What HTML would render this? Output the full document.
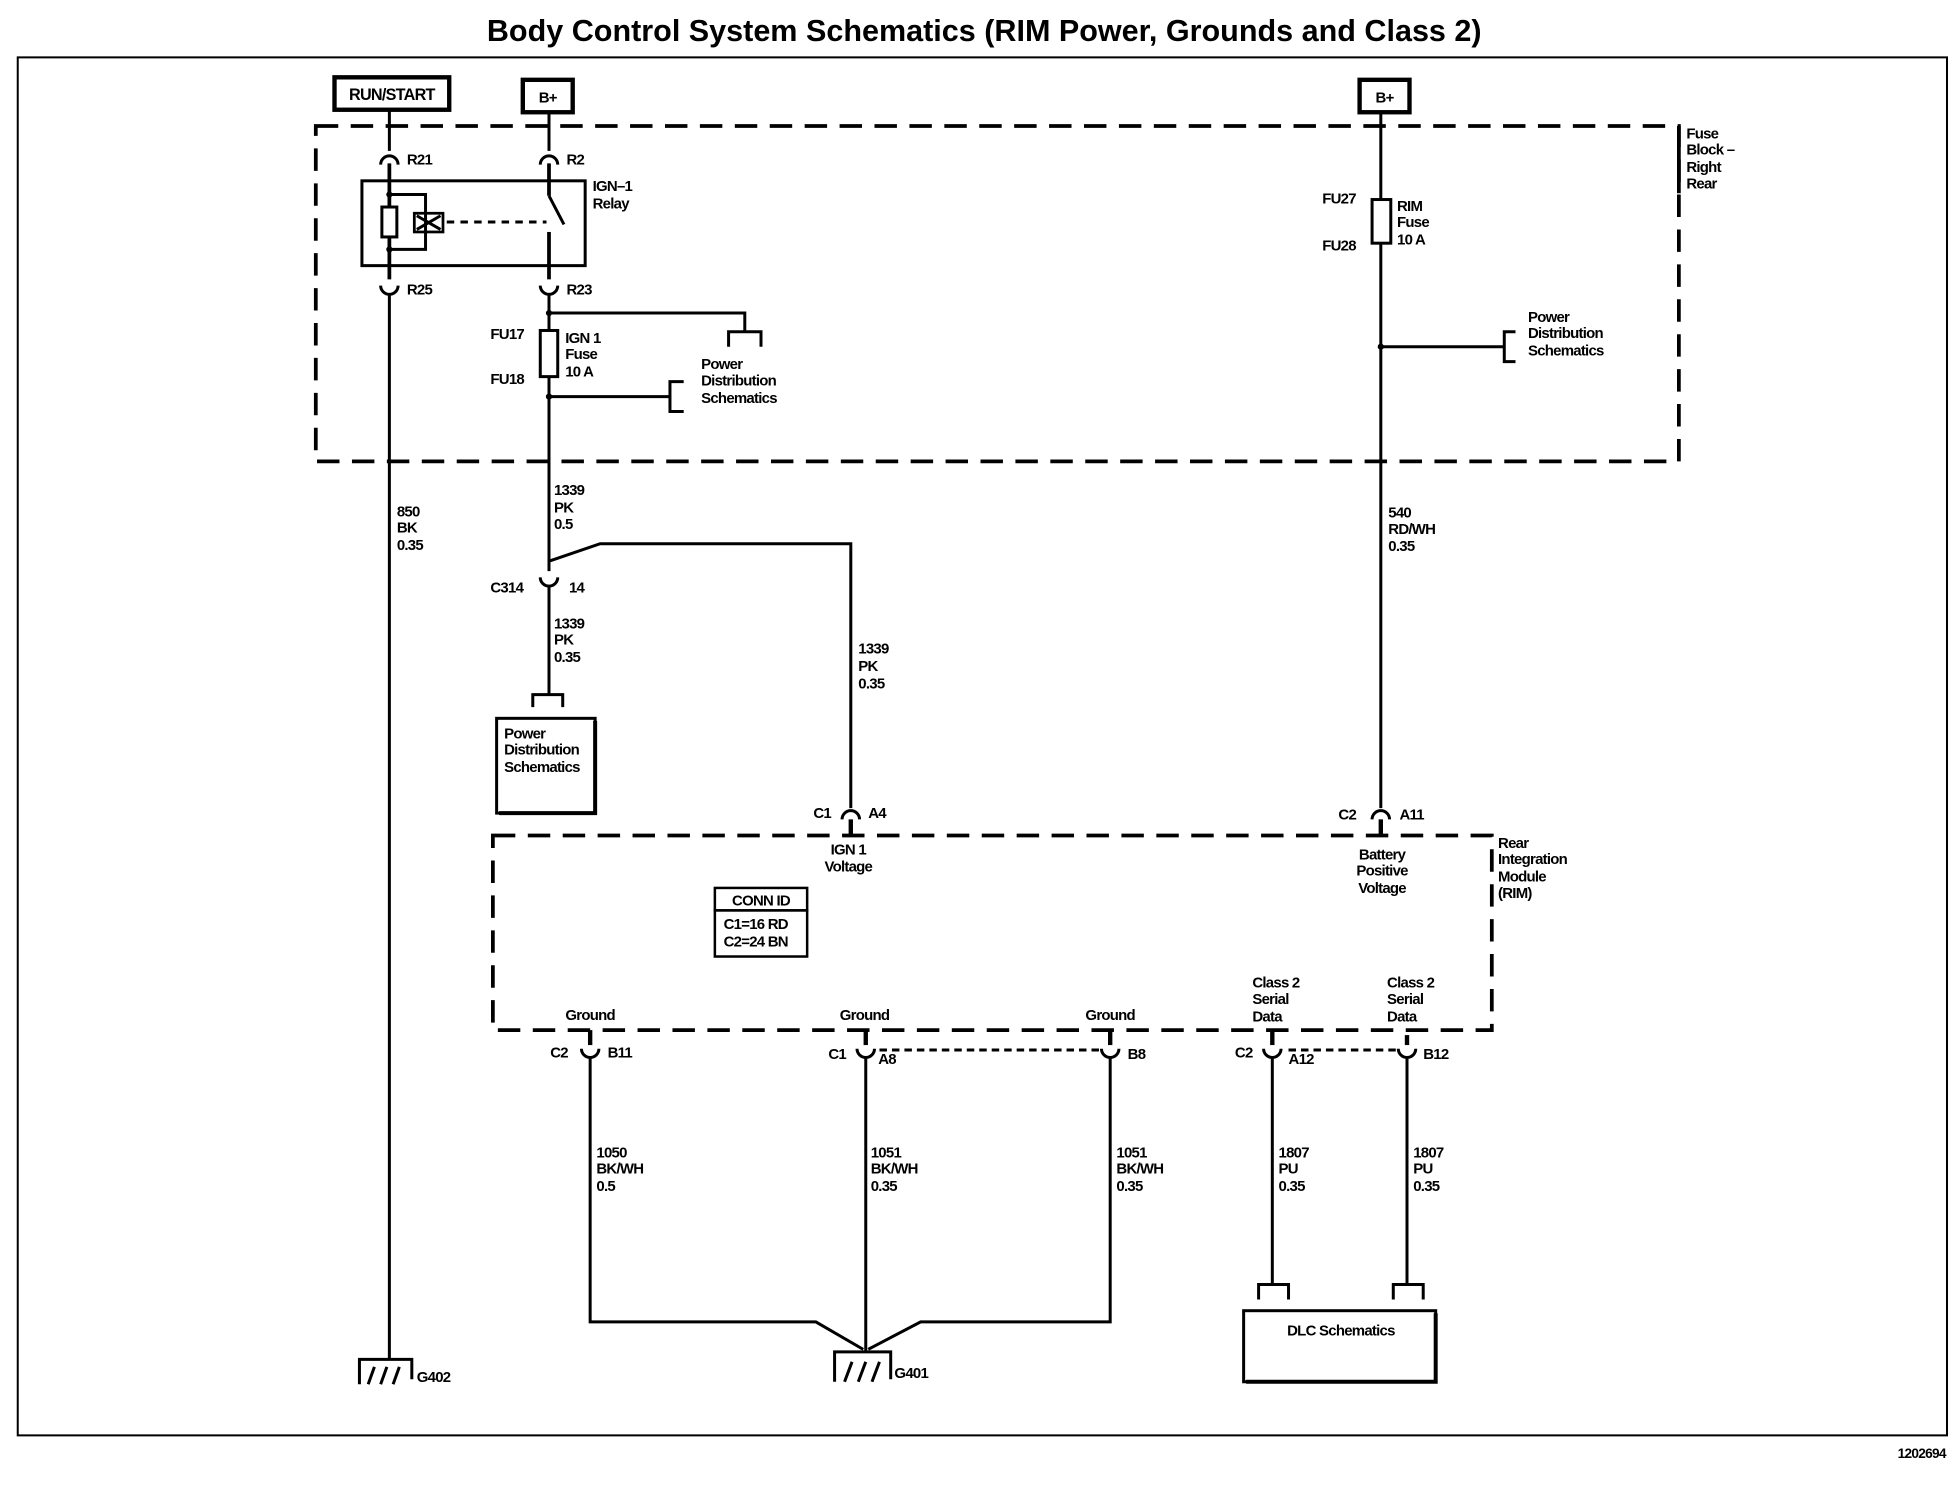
<!DOCTYPE html>
<html><head><meta charset="utf-8"><style>
html,body{margin:0;padding:0;background:#fff;}
svg{display:block;}
text{font-family:"Liberation Sans",Arial,sans-serif;font-weight:bold;font-size:12px;fill:#000;letter-spacing:-0.6px;}
</style></head><body>
<svg width="1956" height="1504" viewBox="0 0 1568 1206" xmlns="http://www.w3.org/2000/svg">
<g stroke="#000" fill="none" stroke-width="2.4">
<path d="M14 46 H1561 V1151 H14 Z" stroke-width="1.6"/>
<rect x="268" y="62" width="92" height="26" stroke-width="3.5"/>
<rect x="419" y="64" width="40" height="26" stroke-width="3.5"/>
<rect x="1090" y="64" width="40" height="26" stroke-width="3.5"/>
<path d="M253 101 H1346 V370 H253 Z" stroke-width="3" stroke-dasharray="18 10"/>
<line x1="1346" y1="101" x2="1346" y2="155" stroke-width="3"/>
<line x1="312" y1="89" x2="312" y2="121"/>
<path d="M305 132 A7 7 0 0 1 319 132"/>
<line x1="312" y1="131" x2="312" y2="224" stroke-width="3"/>
<path d="M305 229 A7 7 0 0 0 319 229"/>
<line x1="312" y1="236" x2="312" y2="1090"/>
<rect x="290" y="145" width="179" height="68"/>
<path d="M312 156 H341 V200 H312"/>
<rect x="306" y="166" width="12" height="24" fill="#fff"/>
<rect x="332" y="171" width="23" height="15" stroke-width="2.2"/>
<path d="M334 173 L353 184 M334 184 L353 173"/>
<line x1="358" y1="178" x2="438" y2="178" stroke-dasharray="6 5"/>
<line x1="440" y1="90" x2="440" y2="121"/>
<path d="M433 132 A7 7 0 0 1 447 132"/>
<line x1="440" y1="131" x2="440" y2="157" stroke-width="3"/>
<line x1="440" y1="157" x2="452" y2="180"/>
<line x1="440" y1="186" x2="440" y2="224" stroke-width="3"/>
<path d="M433 229 A7 7 0 0 0 447 229"/>
<line x1="440" y1="236" x2="440" y2="458"/>
<path d="M440 251 H597 V266"/>
<path d="M584 278 V266 H610 V278"/>
<rect x="433" y="265" width="14" height="37" fill="#fff"/>
<path d="M440 318 H537"/>
<path d="M548 306 H537 V330 H548"/>
<path d="M433 463 A7 7 0 0 0 447 463"/>
<line x1="440" y1="469" x2="440" y2="557"/>
<path d="M440 450 L481 436 H682 V648"/>
<path d="M427 567 V557 H451 V567"/>
<rect x="398" y="576" width="79" height="76"/>
<path d="M477 578 V652 H400" stroke-width="3.2"/>
<path d="M675 657 A7 7 0 0 1 689 657"/>
<line x1="682" y1="657" x2="682" y2="670" stroke-width="3.5"/>
<line x1="1107" y1="90" x2="1107" y2="648"/>
<rect x="1100" y="160" width="15" height="35" fill="#fff"/>
<path d="M1107 278 H1206"/>
<path d="M1215 266 H1206 V290 H1215"/>
<path d="M1100 657 A7 7 0 0 1 1114 657"/>
<line x1="1107" y1="657" x2="1107" y2="670" stroke-width="3.5"/>
<path d="M395 670 H1196 V826 H395 Z" stroke-width="3" stroke-dasharray="18 10"/>
<rect x="573" y="712" width="74" height="18" stroke-width="2"/>
<rect x="573" y="730" width="74" height="37" stroke-width="2"/>
<g>
<line x1="473" y1="826" x2="473" y2="838" stroke-width="3.5"/>
<path d="M466 841 A7 7 0 0 0 480 841"/>
<line x1="694" y1="826" x2="694" y2="838" stroke-width="3.5"/>
<path d="M687 841 A7 7 0 0 0 701 841"/>
<line x1="890" y1="826" x2="890" y2="838" stroke-width="3.5"/>
<path d="M883 841 A7 7 0 0 0 897 841"/>
<line x1="1020" y1="826" x2="1020" y2="838" stroke-width="3.5"/>
<path d="M1013 841 A7 7 0 0 0 1027 841"/>
<line x1="1128" y1="830" x2="1128" y2="838" stroke-width="3.5"/>
<path d="M1121 841 A7 7 0 0 0 1135 841"/>
<line x1="705" y1="842" x2="884" y2="842" stroke-dasharray="6 4"/>
<line x1="1033" y1="842" x2="1120" y2="842" stroke-dasharray="6 4"/>
</g>
<path d="M473 848 V1060 H654 L692 1082 M890 848 V1060 H738 L696 1082"/>
<line x1="694" y1="848" x2="694" y2="1084"/>
<line x1="1020" y1="848" x2="1020" y2="1030"/>
<line x1="1128" y1="848" x2="1128" y2="1030"/>
<path d="M1009 1042 V1030 H1033 V1042"/>
<path d="M1117 1042 V1030 H1141 V1042"/>
<rect x="997" y="1051" width="154" height="57"/>
<path d="M1151 1053 V1108 H999" stroke-width="3.2"/>
<path d="M669 1108 V1084 H714 V1106"/>
<path d="M677 1108 L683 1092 M688 1108 L694 1092 M699 1108 L705 1092"/>
<path d="M288 1110 V1090 H330 V1106"/>
<path d="M295 1110 L300 1096 M305 1110 L310 1096 M315 1110 L320 1096"/>
</g>
<g fill="#000">
<circle cx="440" cy="251" r="2.5"/><circle cx="440" cy="318" r="2.5"/><circle cx="1107" cy="278" r="2.5"/>
<circle cx="312" cy="156" r="2.5"/><circle cx="312" cy="200" r="2.5"/>
</g>
<text x="789" y="33" text-anchor="middle" style="font-size:24.5px;letter-spacing:0">Body Control System Schematics (RIM Power, Grounds and Class 2)</text>
<text x="1560" y="1169" text-anchor="end" style="font-size:11px">1202694</text>
<text x="314" y="80" text-anchor="middle" style="font-size:13px">RUN/START</text>
<text x="439" y="82" text-anchor="middle" style="font-size:12px">B+</text>
<text x="1110" y="82" text-anchor="middle" style="font-size:12px">B+</text>
<text x="326" y="132">R21</text><text x="454" y="132">R2</text>
<text x="326" y="236">R25</text><text x="454" y="236">R23</text>
<text x="475" y="153">IGN–1</text><text x="475" y="167">Relay</text>
<text x="393" y="272">FU17</text><text x="393" y="308">FU18</text>
<text x="453" y="275">IGN 1</text><text x="453" y="288">Fuse</text><text x="453" y="302">10 A</text>
<text x="562" y="296">Power</text><text x="562" y="309">Distribution</text><text x="562" y="323">Schematics</text>
<text x="1060" y="163">FU27</text><text x="1060" y="201">FU28</text>
<text x="1120" y="169">RIM</text><text x="1120" y="182">Fuse</text><text x="1120" y="196">10 A</text>
<text x="1225" y="258">Power</text><text x="1225" y="271">Distribution</text><text x="1225" y="285">Schematics</text>
<text x="1352" y="111">Fuse</text><text x="1352" y="124">Block –</text><text x="1352" y="138">Right</text><text x="1352" y="151">Rear</text>
<text x="318" y="414">850</text><text x="318" y="427">BK</text><text x="318" y="441">0.35</text>
<text x="444" y="397">1339</text><text x="444" y="411">PK</text><text x="444" y="424">0.5</text>
<text x="393" y="475">C314</text><text x="456" y="475">14</text>
<text x="444" y="504">1339</text><text x="444" y="517">PK</text><text x="444" y="531">0.35</text>
<text x="404" y="592">Power</text><text x="404" y="605">Distribution</text><text x="404" y="619">Schematics</text>
<text x="688" y="524">1339</text><text x="688" y="538">PK</text><text x="688" y="552">0.35</text>
<text x="1113" y="415">540</text><text x="1113" y="428">RD/WH</text><text x="1113" y="442">0.35</text>
<text x="652" y="656">C1</text><text x="696" y="656">A4</text>
<text x="680" y="685" text-anchor="middle">IGN 1</text><text x="680" y="699" text-anchor="middle">Voltage</text>
<text x="1073" y="657">C2</text><text x="1122" y="657">A11</text>
<text x="1108" y="689" text-anchor="middle">Battery</text><text x="1108" y="702" text-anchor="middle">Positive</text><text x="1108" y="716" text-anchor="middle">Voltage</text>
<text x="1201" y="680">Rear</text><text x="1201" y="693">Integration</text><text x="1201" y="707">Module</text><text x="1201" y="720">(RIM)</text>
<text x="610" y="726" text-anchor="middle">CONN ID</text>
<text x="580" y="745">C1=16 RD</text><text x="580" y="759">C2=24 BN</text>
<text x="473" y="818" text-anchor="middle">Ground</text><text x="693" y="818" text-anchor="middle">Ground</text><text x="890" y="818" text-anchor="middle">Ground</text>
<text x="1004" y="792">Class 2</text><text x="1004" y="805">Serial</text><text x="1004" y="819">Data</text>
<text x="1112" y="792">Class 2</text><text x="1112" y="805">Serial</text><text x="1112" y="819">Data</text>
<text x="441" y="848">C2</text><text x="487" y="848">B11</text>
<text x="664" y="849">C1</text><text x="704" y="853">A8</text>
<text x="904" y="849">B8</text>
<text x="990" y="848">C2</text><text x="1033" y="853">A12</text>
<text x="1141" y="849">B12</text>
<text x="478" y="928">1050</text><text x="478" y="941">BK/WH</text><text x="478" y="955">0.5</text>
<text x="698" y="928">1051</text><text x="698" y="941">BK/WH</text><text x="698" y="955">0.35</text>
<text x="895" y="928">1051</text><text x="895" y="941">BK/WH</text><text x="895" y="955">0.35</text>
<text x="1025" y="928">1807</text><text x="1025" y="941">PU</text><text x="1025" y="955">0.35</text>
<text x="1133" y="928">1807</text><text x="1133" y="941">PU</text><text x="1133" y="955">0.35</text>
<text x="1075" y="1071" text-anchor="middle">DLC Schematics</text>
<text x="717" y="1105">G401</text><text x="334" y="1108">G402</text>
</svg>
</body></html>
